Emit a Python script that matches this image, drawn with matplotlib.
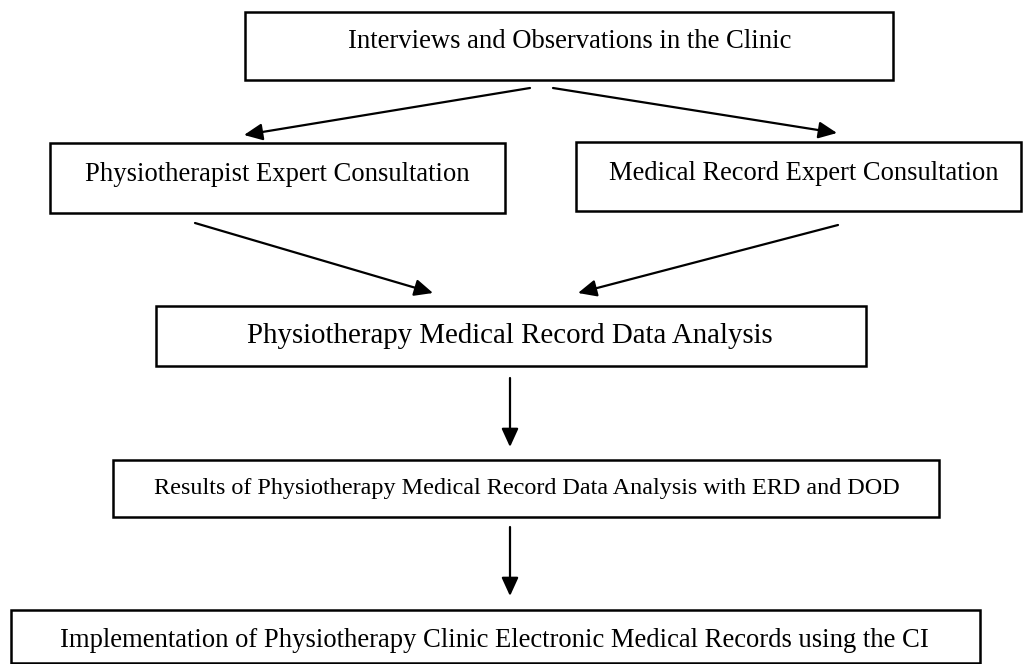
import matplotlib
matplotlib.use("Agg")
import matplotlib.pyplot as plt
from matplotlib.patches import Rectangle, FancyArrowPatch

# Flowchart content
steps = [
    "Interviews and Observations in the Clinic",
    "Physiotherapist Expert Consultation",
    "Medical Record Expert Consultation",
    "Physiotherapy Medical Record Data Analysis",
    "Results of Physiotherapy Medical Record Data Analysis with ERD and DOD",
    "Implementation of Physiotherapy Clinic Electronic Medical Records using the CI",
]
# edges between steps (from index, to index)
edges = [(0, 1), (0, 2), (1, 3), (2, 3), (3, 4), (4, 5)]

# layout (pixel coordinates, y downward)
boxes = [
    (245, 12, 893, 80),
    (50, 143, 505, 213),
    (576, 142, 1021, 211),
    (156, 306, 866, 366),
    (113, 460, 939, 517),
    (11, 610, 980, 662.5),
]
# text left x, baseline y, target width
text_pos = [(348, 48), (85, 181), (609, 180), (247, 343), (154, 494), (60, 647)]
text_w = [442, 383, 389, 526, 742, 868]
arrows = [
    ((530, 88), (244, 135)),
    ((553, 88), (837, 133)),
    ((195, 223), (433, 293)),
    ((838, 225), (578, 293)),
    ((510, 378), (510, 447)),
    ((510, 527), (510, 596)),
]

W, H = 1023, 664
fig = plt.figure(figsize=(W / 100, H / 100), dpi=100)
ax = fig.add_axes([0, 0, 1, 1])
ax.set_xlim(0, W)
ax.set_ylim(H, 0)
ax.axis("off")

for (x0, y0, x1, y1) in boxes:
    ax.add_patch(Rectangle((x0, y0), x1 - x0, y1 - y0, fill=False,
                           edgecolor="black", linewidth=1.8))

fig.canvas.draw()
renderer = fig.canvas.get_renderer()
for label, (tx, ty), tw in zip(steps, text_pos, text_w):
    t = ax.text(tx, ty, label, ha="left", va="baseline",
                family="Liberation Serif", fontsize=12, color="black")
    bb = t.get_window_extent(renderer=renderer)
    t.set_fontsize(12 * tw / bb.width)

for (p0, p1) in arrows:
    ax.add_patch(FancyArrowPatch(p0, p1, arrowstyle="-|>,head_length=7,head_width=3.2",
                                 mutation_scale=1.6, color="black", linewidth=1.6,
                                 shrinkA=0, shrinkB=0))

fig.savefig("out.png", dpi=100, facecolor="white")
